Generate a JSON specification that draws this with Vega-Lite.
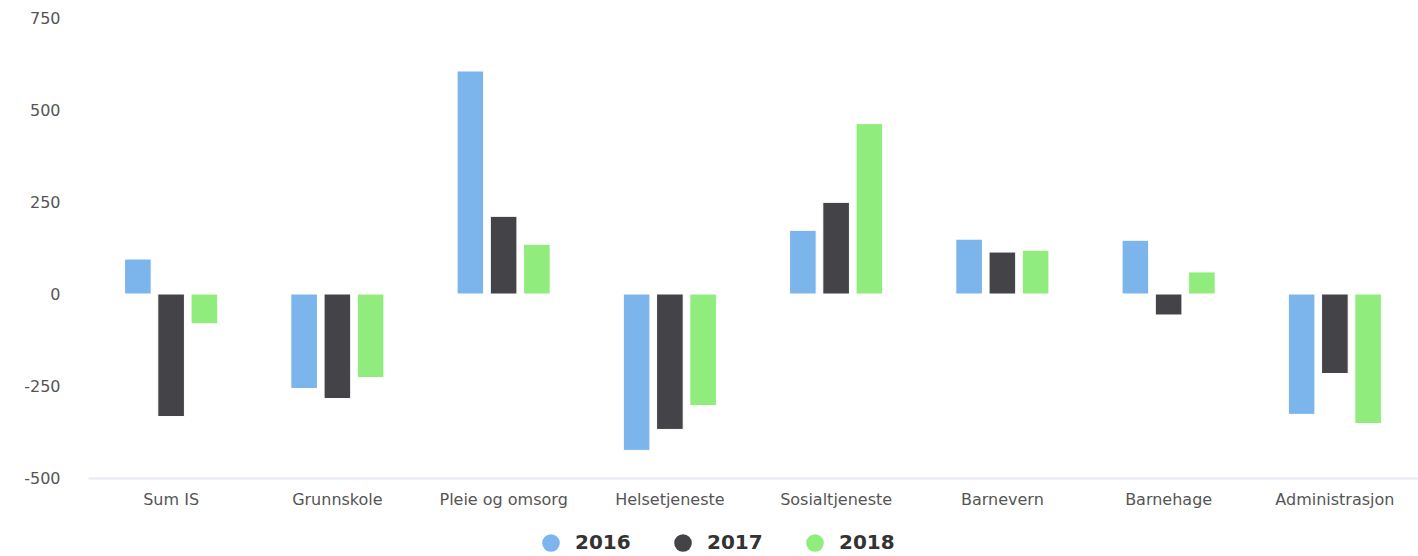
{
  "$schema": "https://vega.github.io/schema/vega-lite/v6.json",
  "width": 1330,
  "height": 460,
  "autosize": {"type": "none"},
  "padding": {"left": 88, "top": 18, "right": 0, "bottom": 78},
  "background": "white",
  "config": {"view": {"stroke": null}, "font": "DejaVu Sans"},
  "data": {"values": [
    {"kategori": "Sum IS", "år": "2016", "verdi": 95},
    {"kategori": "Sum IS", "år": "2017", "verdi": -333},
    {"kategori": "Sum IS", "år": "2018", "verdi": -81},
    {"kategori": "Grunnskole", "år": "2016", "verdi": -257},
    {"kategori": "Grunnskole", "år": "2017", "verdi": -284},
    {"kategori": "Grunnskole", "år": "2018", "verdi": -227},
    {"kategori": "Pleie og omsorg", "år": "2016", "verdi": 606},
    {"kategori": "Pleie og omsorg", "år": "2017", "verdi": 211},
    {"kategori": "Pleie og omsorg", "år": "2018", "verdi": 135},
    {"kategori": "Helsetjeneste", "år": "2016", "verdi": -425},
    {"kategori": "Helsetjeneste", "år": "2017", "verdi": -368},
    {"kategori": "Helsetjeneste", "år": "2018", "verdi": -303},
    {"kategori": "Sosialtjeneste", "år": "2016", "verdi": 173},
    {"kategori": "Sosialtjeneste", "år": "2017", "verdi": 249},
    {"kategori": "Sosialtjeneste", "år": "2018", "verdi": 463},
    {"kategori": "Barnevern", "år": "2016", "verdi": 149},
    {"kategori": "Barnevern", "år": "2017", "verdi": 114},
    {"kategori": "Barnevern", "år": "2018", "verdi": 119},
    {"kategori": "Barnehage", "år": "2016", "verdi": 146},
    {"kategori": "Barnehage", "år": "2017", "verdi": -57},
    {"kategori": "Barnehage", "år": "2018", "verdi": 60},
    {"kategori": "Administrasjon", "år": "2016", "verdi": -327},
    {"kategori": "Administrasjon", "år": "2017", "verdi": -216},
    {"kategori": "Administrasjon", "år": "2018", "verdi": -352}
  ]},
  "mark": {"type": "bar", "stroke": "white", "strokeWidth": 1},
  "encoding": {
    "x": {
      "field": "kategori", "type": "nominal", "sort": null,
      "scale": {"paddingInner": 0.4, "paddingOuter": 0.2},
      "axis": {
        "title": null, "labelAngle": 0, "ticks": false,
        "domainColor": "#e6e9f5", "domainWidth": 2,
        "labelColor": "#555555", "labelFontSize": 16, "labelPadding": 13,
        "labelFont": "DejaVu Sans"
      }
    },
    "xOffset": {
      "field": "år", "type": "nominal",
      "scale": {"paddingInner": 0.2, "paddingOuter": 0.1}
    },
    "y": {
      "field": "verdi", "type": "quantitative",
      "scale": {"domain": [-500, 750], "nice": false},
      "axis": {
        "title": null, "values": [-500, -250, 0, 250, 500, 750],
        "grid": false, "domain": false, "ticks": false,
        "labelColor": "#555555", "labelFontSize": 16, "labelPadding": 28,
        "labelFont": "DejaVu Sans",
        "labelExpr": "replace(datum.label, '−', '-')"
      }
    },
    "color": {
      "field": "år", "type": "nominal",
      "scale": {"domain": ["2016", "2017", "2018"], "range": ["#7cb5ec", "#434348", "#90ed7d"]},
      "legend": {
        "title": null, "orient": "none", "direction": "horizontal",
        "legendX": 453, "legendY": 515,
        "symbolType": "circle", "symbolSize": 310, "symbolStrokeWidth": 0,
        "labelFontSize": 20, "labelFontWeight": "bold", "labelColor": "#333333",
        "columnPadding": 42, "labelOffset": 14
      }
    }
  }
}
